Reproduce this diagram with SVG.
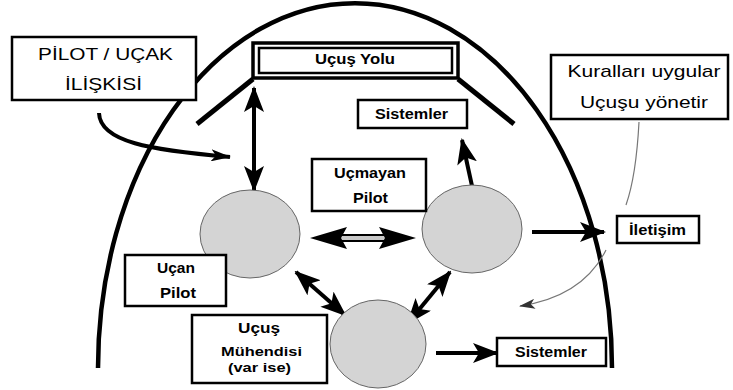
<svg xmlns="http://www.w3.org/2000/svg" width="733" height="390" viewBox="0 0 733 390">
<style>
.box{fill:#fff;stroke:#000;stroke-width:2.5}
.lbl{font-family:"Liberation Sans",Arial,sans-serif;font-weight:bold;font-size:14px;fill:#000;text-anchor:middle}
.sm{font-size:13px}
.reg{font-family:"Liberation Sans",Arial,sans-serif;font-size:17px;fill:#000;text-anchor:middle}
.circ{fill:#d4d4d4;stroke:#666;stroke-width:1}
.conn{fill:none;stroke:#000;stroke-width:4}
.thin{fill:none;stroke:#777;stroke-width:1.2}
</style>
<defs>
<marker id="ah" markerUnits="userSpaceOnUse" markerWidth="26" markerHeight="20" refX="24" refY="10" orient="auto-start-reverse">
<path d="M0,0 L26,10 L0,20 L6,10 z" fill="#000"/>
</marker>
<marker id="am" markerUnits="userSpaceOnUse" markerWidth="20" markerHeight="12" refX="19" refY="6" orient="auto">
<path d="M0,0 L20,6 L0,12 L5,6 z" fill="#000"/>
</marker>
<marker id="as" markerUnits="userSpaceOnUse" markerWidth="16" markerHeight="10" refX="15" refY="5" orient="auto">
<path d="M0,0 L16,5 L0,10 L4,5 z" fill="#333"/>
</marker>
</defs>
<rect width="733" height="390" fill="#fff"/>

<g id="arch">
<path d="M98,368 A257,365 0 0 1 612,368" fill="none" stroke="#000" stroke-width="4.5"/>
<path d="M253,79 L197,124" fill="none" stroke="#000" stroke-width="5"/>
<path d="M458,79 L514,124" fill="none" stroke="#000" stroke-width="5"/>
</g>

<g id="connectors">
<path class="conn" d="M254,88 L254,190" stroke-width="3" marker-start="url(#ah)" marker-end="url(#ah)"/>
<path class="conn" d="M99,113 C100,142 150,150 230,157" stroke-width="2.5" marker-end="url(#am)"/>
<path class="conn" d="M472,186 L462,140" marker-end="url(#ah)"/>
<path class="conn" d="M532,232 L604,232" marker-end="url(#ah)"/>
<path class="conn" d="M436,353 L497,353" marker-end="url(#ah)"/>
<path class="conn" d="M296,272 L345,315" marker-start="url(#ah)" marker-end="url(#ah)"/>
<path class="conn" d="M450,272 L408,323" marker-start="url(#ah)" marker-end="url(#ah)"/>
<g id="hollow-arrow">
<rect x="340" y="235" width="46" height="6" fill="#c8c8c8"/>
<line x1="340" y1="235" x2="386" y2="235" stroke="#000" stroke-width="2"/>
<line x1="340" y1="241" x2="386" y2="241" stroke="#000" stroke-width="2"/>
<polygon points="310,238 347,227 341,238 347,249" fill="#000"/>
<polygon points="416,238 379,227 385,238 379,249" fill="#000"/>
</g>
<path class="thin" d="M639,122 C637,160 633,185 626,205"/>
<path class="thin" d="M606,250 C590,282 560,300 520,306" marker-end="url(#as)"/>
</g>

<g id="pilot-left">
<ellipse class="circ" cx="250" cy="234" rx="50" ry="44"/>
</g>
<g id="pilot-right">
<ellipse class="circ" cx="472" cy="229" rx="50" ry="44"/>
</g>
<g id="engineer-circle">
<ellipse class="circ" cx="378" cy="344" rx="48" ry="44"/>
</g>

<g id="pilot-ucak">
<rect class="box" x="12" y="37" width="184" height="63"/>
<text class="reg" x="105.5" y="60" textLength="135" lengthAdjust="spacingAndGlyphs">PİLOT / UÇAK</text>
<text class="reg" x="103.5" y="90" textLength="77" lengthAdjust="spacingAndGlyphs">İLİŞKİSİ</text>
</g>

<g id="ucus-yolu">
<rect x="253" y="43" width="205" height="35" fill="#fff" stroke="#000" stroke-width="3.5"/>
<rect x="259" y="48" width="193" height="25" fill="none" stroke="#000" stroke-width="2.5"/>
<text class="lbl" x="355" y="64" textLength="80" lengthAdjust="spacingAndGlyphs">Uçuş Yolu</text>
</g>

<g id="sistemler-top">
<rect class="box" x="358" y="100" width="109" height="28"/>
<text class="lbl" x="411.5" y="119" textLength="73" lengthAdjust="spacingAndGlyphs">Sistemler</text>
</g>

<g id="kurallar">
<rect class="box" x="551" y="55" width="177" height="64"/>
<text class="reg" x="644" y="77" textLength="153" lengthAdjust="spacingAndGlyphs">Kuralları uygular</text>
<text class="reg" x="644" y="108" textLength="128" lengthAdjust="spacingAndGlyphs">Uçuşu yönetir</text>
</g>

<g id="ucmayan-pilot">
<rect class="box" x="312" y="159" width="114" height="52"/>
<text class="lbl" x="370" y="178" textLength="72" lengthAdjust="spacingAndGlyphs">Uçmayan</text>
<text class="lbl" x="370.5" y="203" textLength="35" lengthAdjust="spacingAndGlyphs">Pilot</text>
</g>

<g id="iletisim">
<rect class="box" x="617" y="216" width="82" height="27"/>
<text class="lbl" x="657.5" y="235" textLength="57" lengthAdjust="spacingAndGlyphs">İletişim</text>
</g>

<g id="ucan-pilot">
<rect class="box" x="125" y="255" width="101" height="51"/>
<text class="lbl" x="176" y="273" textLength="38" lengthAdjust="spacingAndGlyphs">Uçan</text>
<text class="lbl" x="178" y="298" textLength="36" lengthAdjust="spacingAndGlyphs">Pilot</text>
</g>

<g id="ucus-muhendisi">
<rect class="box" x="192" y="315" width="135" height="68"/>
<text class="lbl" x="259" y="333" textLength="42" lengthAdjust="spacingAndGlyphs">Uçuş</text>
<text class="lbl sm" x="261.5" y="356" textLength="81" lengthAdjust="spacingAndGlyphs">Mühendisi</text>
<text class="lbl sm" x="259.5" y="372" textLength="63" lengthAdjust="spacingAndGlyphs">(var ise)</text>
</g>

<g id="sistemler-bottom">
<rect class="box" x="497" y="338" width="109" height="28"/>
<text class="lbl" x="551" y="357" textLength="72" lengthAdjust="spacingAndGlyphs">Sistemler</text>
</g>
</svg>
